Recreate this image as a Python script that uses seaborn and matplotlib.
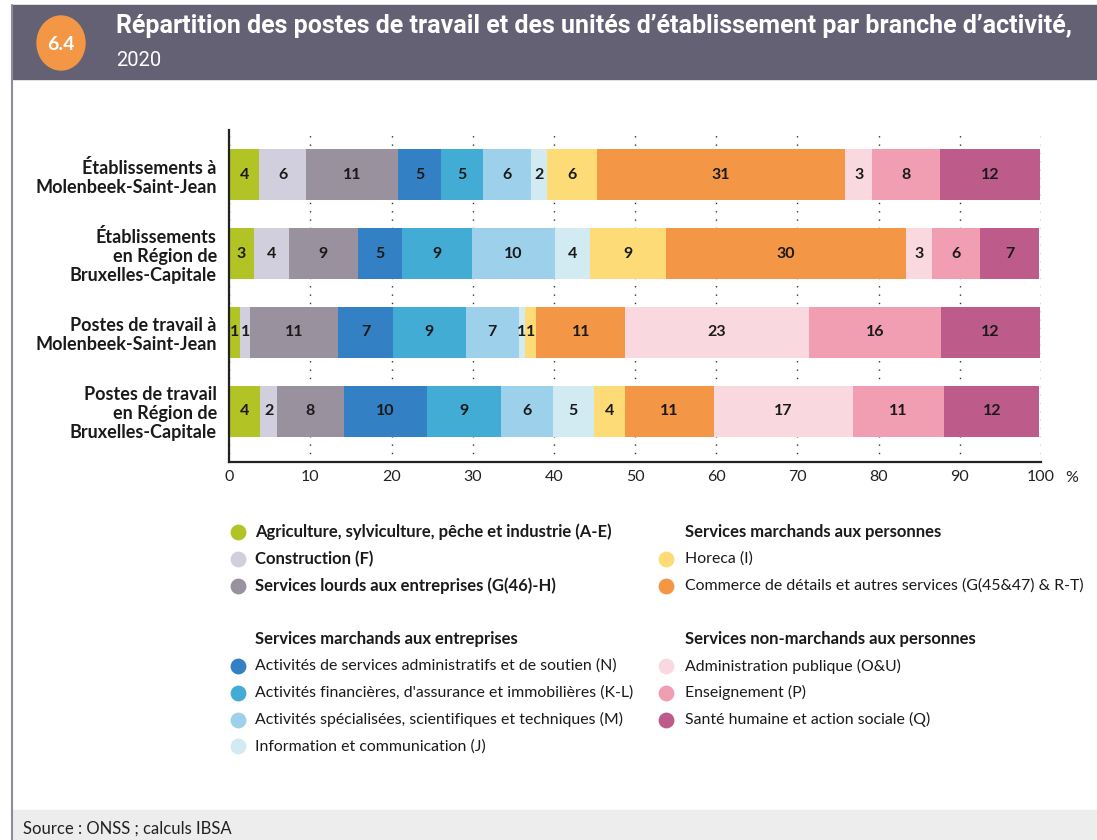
import numpy as np
import pandas as pd
import matplotlib
matplotlib.use("Agg")
import matplotlib.pyplot as plt
import seaborn as sns
from matplotlib.patches import Rectangle, Ellipse

# ---------------- data ----------------
rows = ["Établissements à\nMolenbeek-Saint-Jean",
        "Établissements\nen Région de\nBruxelles-Capitale",
        "Postes de travail à\nMolenbeek-Saint-Jean",
        "Postes de travail\nen Région de\nBruxelles-Capitale"]

branches = ["Agriculture, sylviculture, pêche et industrie (A-E)",
            "Construction (F)",
            "Services lourds aux entreprises (G(46)-H)",
            "Activités de services administratifs et de soutien (N)",
            "Activités financières, d'assurance et immobilières (K-L)",
            "Activités spécialisées, scientifiques et techniques (M)",
            "Information et communication (J)",
            "Horeca (I)",
            "Commerce de détails et autres services (G(45&47) & R-T)",
            "Administration publique (O&U)",
            "Enseignement (P)",
            "Santé humaine et action sociale (Q)"]

colors = ["#b2c325", "#d1cfdd", "#9a919e", "#3480c4", "#43acd5", "#9dd1eb",
          "#d2eaf1", "#fddc77", "#f39646", "#f9d8e0", "#f19db2", "#bd5b8b"]

agri = [3.7, 3.0, 1.3, 3.8]
construction = [5.8, 4.3, 1.3, 2.1]
lourds = [11.3, 8.6, 10.8, 8.2]
admin_soutien = [5.3, 5.4, 6.8, 10.2]
financieres = [5.2, 8.6, 8.9, 9.2]
specialisees = [5.9, 10.2, 6.6, 6.4]
information = [1.9, 4.3, 0.7, 5.0]
horeca = [6.2, 9.4, 1.4, 3.8]
commerce = [30.6, 29.6, 11.0, 11.0]
administration = [3.3, 3.2, 22.6, 17.1]
enseignement = [8.4, 5.9, 16.3, 11.3]
sante = [12.3, 7.3, 12.2, 11.7]

series = [agri, construction, lourds, admin_soutien, financieres, specialisees,
          information, horeca, commerce, administration, enseignement, sante]

xticks = list(range(0, 101, 10))

# legend groups: (header or None, list of branch indices, bold labels?)
legend_left = [(None, [0, 1, 2], True),
               ("Services marchands aux entreprises", [3, 4, 5, 6], False)]
legend_right = [("Services marchands aux personnes", [7, 8], False),
                ("Services non-marchands aux personnes", [9, 10, 11], False)]

# ---------------- figure ----------------
sns.set_theme(style="white")
plt.rcParams['font.family'] = ['Lato', 'DejaVu Sans']

W, H = 1097, 840
fig = plt.figure(figsize=(W / 100, H / 100), dpi=100)

ov = fig.add_axes([0, 0, 1, 1])
ov.set_xlim(0, W)
ov.set_ylim(H, 0)
ov.axis('off')
ov.set_zorder(0)

ax = fig.add_axes([229.3 / W, 1 - 462 / H, (1041 - 229.3) / W, (462 - 130) / H])
ax.set_zorder(1)
ax.patch.set_alpha(0)

vals = np.array(series)  # shape (12, 4)
cum = np.cumsum(vals, axis=0)

for k in range(len(series) - 1, -1, -1):
    df = pd.DataFrame({"row": rows, "cum": cum[k]})
    sns.barplot(data=df, x="cum", y="row", order=rows, color=colors[k],
                saturation=1, width=0.65, orient="h", ax=ax,
                linewidth=0, edgecolor="none")

for k in range(len(series)):
    for i in range(len(rows)):
        v = vals[k, i]
        start = cum[k, i] - v
        ax.text(start + v / 2, i, f"{int(round(v))}", ha="center", va="center",
                fontsize=11.5, fontweight="bold", color="#1a1a1a",
                family=["Lato", "DejaVu Sans"])

ax.set_xlim(0, 100)
ax.set_ylim(3.645, -0.57)
ax.set_xticks(xticks)
ax.set_xticklabels([str(t) for t in xticks], fontsize=11.5, color="#222222")
ax.set_yticks(range(len(rows)))
ax.set_yticklabels(rows, fontsize=13, fontweight="bold", color="#1a1a1a",
                   linespacing=1.15)
ax.tick_params(axis="both", length=0)
ax.tick_params(axis="y", pad=9)
ax.tick_params(axis="x", pad=6)
ax.set_xlabel("")
ax.set_ylabel("")
ax.set_axisbelow(True)
ax.xaxis.grid(True, color="#333333", linestyle=(0, (1, 5)), linewidth=1.0)
ax.yaxis.grid(False)
for s in ["top", "right"]:
    ax.spines[s].set_visible(False)
for s in ["left", "bottom"]:
    ax.spines[s].set_color("#222222")
    ax.spines[s].set_linewidth(1.6)
ax.text(1.03, -0.028, "%", transform=ax.transAxes, fontsize=11.5,
        color="#222222", ha="left", va="top")

# ---------------- header / frame / footer ----------------
ov.add_patch(Rectangle((12, 5), W - 12, 74, color="#646174", zorder=1))
ov.plot([12, 12], [5, H], color="#8e8b9c", lw=1.5, zorder=2)
ov.add_patch(Rectangle((12, 810), W - 12, 30, color="#ededed", zorder=1))
ov.text(23, 829, "Source : ONSS ; calculs IBSA", fontsize=12, color="#222222",
        va="center", ha="left", zorder=3)
ov.add_patch(Ellipse((61, 43), 48, 54, color="#f39646", zorder=2))
ov.text(61, 44, "6.4", color="white", fontsize=14, fontweight="bold",
        ha="center", va="center", zorder=3)
ov.text(116, 26, "Répartition des postes de travail et des unités d\u2019établissement par branche d\u2019activité,",
        color="white", fontsize=18, fontweight="bold", ha="left", va="center",
        family=["Roboto", "DejaVu Sans"], zorder=3)
ov.text(116, 60, "2020", color="white", fontsize=14.5, ha="left", va="center",
        family=["Roboto", "DejaVu Sans"], zorder=3)

# ---------------- legend ----------------
def draw_legend(groups, x_circle, x_text, x_head, y0):
    y = y0
    step = 26.8
    for g, (header, idxs, bold) in enumerate(groups):
        if g > 0:
            y += step * 1.0
        if header is not None:
            ov.text(x_head, y, header, fontsize=12, fontweight="bold",
                    color="#1a1a1a", ha="left", va="center")
            y += step
        for j in idxs:
            ov.scatter([x_circle], [y], s=130, color=colors[j], zorder=3,
                       linewidths=0)
            ov.text(x_text, y, branches[j], fontsize=12 if bold else 11.4,
                    fontweight="bold" if bold else "normal",
                    color="#1a1a1a", ha="left", va="center")
            y += step

draw_legend(legend_left, 238, 255, 255, 532)
draw_legend(legend_right, 666, 685, 685, 532)

fig.savefig("out.png", dpi=100)
